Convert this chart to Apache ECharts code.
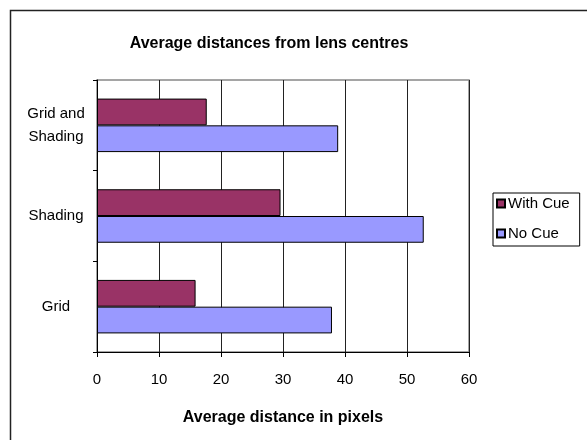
<!DOCTYPE html>
<html>
<head>
<meta charset="utf-8">
<script src="https://cdn.jsdelivr.net/npm/echarts@6/dist/echarts.min.js"></script>
<style>
  html, body { margin: 0; padding: 0; background: #fff; }
  #chart { width: 587px; height: 440px; }
</style>
</head>
<body>
<div id="chart"></div>
<script>
// Categories listed bottom-to-top along the value axis
const categories = ['Grid', 'Shading', 'Grid and\nShading'];
const withCue = [15.9, 29.6, 17.7];
const noCue = [37.9, 52.7, 38.9];
const xTicks = [0, 10, 20, 30, 40, 50, 60];

const FONT = '"Liberation Sans", Arial, sans-serif';

const chart = echarts.init(document.getElementById('chart'), null, { renderer: 'canvas' });

chart.setOption({
  animation: false,
  backgroundColor: '#fff',
  textStyle: { fontFamily: FONT, color: '#000' },
  title: {
    text: 'Average distances from lens centres',
    left: 264, top: 31, textAlign: 'center',
    textStyle: { fontFamily: FONT, fontSize: 16, fontWeight: 'bold', color: '#000' }
  },
  graphic: [{
    type: 'rect',
    shape: { x: 10.5, y: 10.5, width: 620, height: 480 },
    style: { fill: null, stroke: '#222', lineWidth: 1.5 },
    z: 100, silent: true
  }],
  legend: {
    orient: 'vertical',
    left: 493, top: 193,
    data: ['With Cue', 'No Cue'],
    icon: 'rect',
    itemWidth: 8, itemHeight: 8, itemGap: 15,
    padding: [3, 10, 5, 3],
    borderColor: '#000', borderWidth: 1,
    textStyle: { fontFamily: FONT, fontSize: 15, color: '#000', padding: [0, 0, 0, -2] }
  },
  grid: {
    left: 97, top: 80, right: 118, bottom: 88,
    show: true, borderColor: '#888', borderWidth: 1.5, backgroundColor: '#fff'
  },
  xAxis: {
    type: 'value',
    min: xTicks[0], max: xTicks[xTicks.length - 1], interval: 10,
    axisLine: { show: true, lineStyle: { color: '#000', width: 1 } },
    axisTick: { show: true, length: 5, lineStyle: { color: '#000' } },
    splitLine: { show: true, lineStyle: { color: '#222', width: 1 } },
    axisLabel: { fontFamily: FONT, fontSize: 15, color: '#000', margin: 20 },
    name: 'Average distance in pixels',
    nameLocation: 'middle', nameGap: 58,
    nameTextStyle: { fontFamily: FONT, fontSize: 16, fontWeight: 'bold', color: '#000' }
  },
  yAxis: {
    type: 'category',
    data: categories,
    axisLine: { show: true, lineStyle: { color: '#000', width: 1 } },
    axisTick: { show: true, length: 4, lineStyle: { color: '#000' } },
    splitLine: { show: false },
    axisLabel: {
      fontFamily: FONT, fontSize: 15, color: '#000',
      lineHeight: 23, align: 'center', margin: 41
    }
  },
  series: [
    {
      name: 'With Cue', type: 'bar', data: withCue,
      barCategoryGap: '41%', barGap: '0%',
      itemStyle: { color: '#993366', borderColor: '#000', borderWidth: 1 }
    },
    {
      name: 'No Cue', type: 'bar', data: noCue,
      barCategoryGap: '41%', barGap: '0%',
      itemStyle: { color: '#9999FF', borderColor: '#000', borderWidth: 1 }
    }
  ]
});
</script>
</body>
</html>
